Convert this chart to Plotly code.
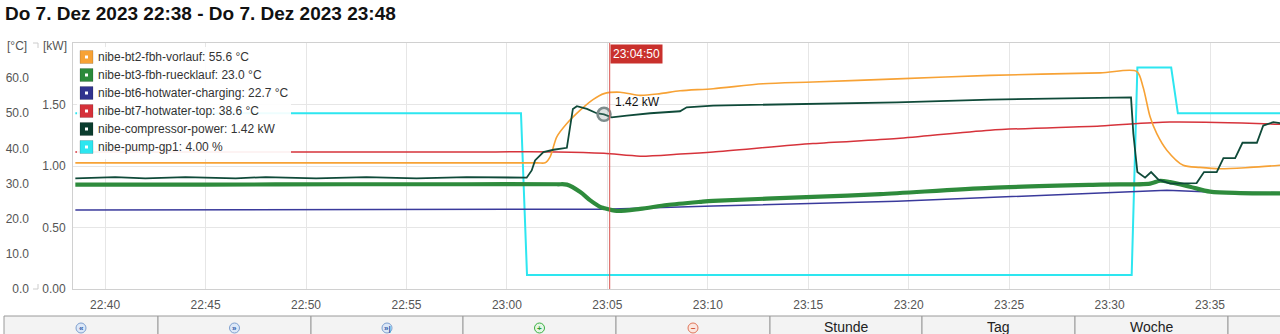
import plotly.graph_objects as go

D = "2023-12-07 "

# ---------------- data ----------------
vorlauf_t = ["22:38:31", "22:45:00", "22:52:00", "22:58:00", "23:01:30", "23:01:54", "23:02:09", "23:02:29",
             "23:02:59", "23:03:39", "23:04:17", "23:04:50",
             "23:05:38", "23:06:38", "23:07:38", "23:08:37", "23:10:16", "23:12:45", "23:15:14", "23:19:25",
             "23:24:03", "23:29:32", "23:31:21", "23:31:40", "23:32:01", "23:32:21", "23:32:51", "23:33:40",
             "23:34:30", "23:35:30", "23:36:59", "23:38:29"]
vorlauf_v = [35.9, 35.9, 35.9, 35.9, 35.9, 35.9, 37.6, 43.3,
             47.1, 50.9, 53.9, 55.6,
             56.0, 55.1, 55.6, 56.4, 57.0, 58.4, 58.9, 59.8,
             60.8, 61.5, 61.9, 57.5, 49.0, 44.2, 39.5, 35.2,
             34.6, 34.2, 34.6, 35.2]

ruecklauf_t = ["22:38:31", "22:45:00", "22:52:00", "22:58:00", "23:02:30", "23:02:59", "23:03:39", "23:04:08",
               "23:04:38", "23:04:50", "23:05:28",
               "23:06:38", "23:07:58", "23:09:37", "23:10:16", "23:15:14", "23:18:35", "23:24:03", "23:29:32",
               "23:32:01", "23:32:31", "23:33:01", "23:34:00", "23:35:00", "23:36:30", "23:38:29"]
ruecklauf_v = [29.7, 29.7, 29.8, 29.8, 29.8, 29.7, 27.6, 25.3,
               23.4, 23.0, 22.2,
               22.8, 23.9, 24.8, 25.1, 26.2, 27.0, 28.8, 29.7,
               30.0, 30.8, 30.4, 29.1, 27.7, 27.3, 27.2]

charging_t = ["22:38:31", "23:04:50", "23:10:16", "23:19:25", "23:29:32", "23:32:51", "23:35:00", "23:38:29"]
charging_v = [22.5, 22.7, 23.6, 25.0, 27.3, 28.1, 27.6, 27.4]

top_t = ["22:38:31", "22:45:00", "22:52:00", "22:58:00", "23:02:30", "23:04:50", "23:06:38", "23:08:38",
         "23:10:16", "23:15:14", "23:19:25", "23:24:03", "23:29:32", "23:33:00", "23:38:29"]
top_v = [39.0, 39.0, 39.0, 39.0, 39.0, 38.6, 37.8, 38.4,
         39.0, 41.4, 42.8, 45.2, 46.4, 47.5, 46.9]

comp_t = ["22:38:31", "22:40:30", "22:42:00", "22:44:00", "22:46:30", "22:48:00", "22:50:30", "22:53:00",
          "22:55:30", "22:58:00", "23:00:59", "23:01:14", "23:01:24", "23:01:49", "23:02:19", "23:02:59",
          "23:03:17", "23:03:29", "23:03:59", "23:04:28", "23:04:50", "23:05:13", "23:05:58", "23:07:08",
          "23:08:37", "23:08:57", "23:10:16", "23:15:14", "23:19:25", "23:24:03", "23:29:32", "23:31:04",
          "23:31:11", "23:31:23", "23:31:46", "23:32:04", "23:32:26", "23:33:01", "23:34:20", "23:34:42",
          "23:35:20", "23:35:40", "23:36:15", "23:36:37", "23:37:20", "23:37:39", "23:38:09", "23:38:29"]
comp_v = [0.90, 0.91, 0.90, 0.91, 0.90, 0.91, 0.90, 0.91,
          0.90, 0.91, 0.905, 0.964, 1.045, 1.113, 1.132, 1.148,
          1.464, 1.486, 1.464, 1.429, 1.42, 1.396, 1.41, 1.429,
          1.445, 1.477, 1.491, 1.505, 1.518, 1.540, 1.558, 1.558,
          1.262, 0.951, 0.905, 0.951, 0.889, 0.857, 0.861, 0.951,
          0.951, 1.064, 1.064, 1.189, 1.189, 1.329, 1.356, 1.348]

pump_t = ["22:38:31", "23:00:42", "23:01:00", "23:31:06", "23:31:23", "23:33:04", "23:33:24", "23:38:29"]
pump_v = [50, 50, 4, 4, 63, 63, 50, 50]

legend_labels = ["nibe-bt2-fbh-vorlauf: 55.6 °C", "nibe-bt3-fbh-ruecklauf: 23.0 °C",
                 "nibe-bt6-hotwater-charging: 22.7 °C", "nibe-bt7-hotwater-top: 38.6 °C",
                 "nibe-compressor-power: 1.42 kW", "nibe-pump-gp1: 4.00 %"]
legend_colors = ["#f7a235", "#2b8a3b", "#30338f", "#d5313a", "#0b3d2e", "#2de6f0"]

c_ticks = [0, 10, 20, 30, 40, 50, 60]
kw_ticks = [0, 0.5, 1.0, 1.5]
title_text = "Do 7. Dez 2023 22:38 - Do 7. Dez 2023 23:48"
hover_time = "23:04:50"
hover_value = 1.42
crosshair_time = "23:05:07"
buttons = ["«", "»", "»|", "+", "−", "Stunde", "Tag", "Woche", ""]

# ---------------- figure ----------------
W, H = 1280, 334
PT, PB = 43, 289


def px(x):
    return x / W


def py(y):
    return (PB - y) / (PB - PT)


FONT = "Liberation Sans, Arial, sans-serif"

fig = go.Figure()


def ts(lst):
    return [D + t for t in lst]


fig.add_trace(go.Scatter(x=ts(pump_t), y=pump_v, mode="lines", yaxis="y",
                         line=dict(color="#2de6f0", width=2), hoverinfo="skip"))
fig.add_trace(go.Scatter(x=ts(charging_t), y=charging_v, mode="lines", yaxis="y",
                         line=dict(color="#3a3a9c", width=1.5), hoverinfo="skip"))
fig.add_trace(go.Scatter(x=ts(top_t), y=top_v, mode="lines", yaxis="y", line_shape="spline",
                         line=dict(color="#d6333b", width=1.5, smoothing=0.8), hoverinfo="skip"))
fig.add_trace(go.Scatter(x=ts(vorlauf_t), y=vorlauf_v, mode="lines", yaxis="y", line_shape="spline",
                         line=dict(color="#f7a235", width=1.6, smoothing=0.8), hoverinfo="skip"))
fig.add_trace(go.Scatter(x=ts(ruecklauf_t), y=ruecklauf_v, mode="lines", yaxis="y", line_shape="spline",
                         line=dict(color="#2e8b3c", width=4.2, smoothing=0.8), hoverinfo="skip"))
fig.add_trace(go.Scatter(x=ts(comp_t), y=comp_v, mode="lines", yaxis="y2",
                         line=dict(color="#0f4a39", width=1.8), hoverinfo="skip"))
fig.add_trace(go.Scatter(x=[D + hover_time], y=[hover_value], mode="markers", yaxis="y2",
                         marker=dict(size=13, color="rgba(120,140,140,0.25)",
                                     line=dict(color="#7d8c8c", width=2.5)), hoverinfo="skip"))

shapes = []
annotations = []

# crosshair
shapes.append(dict(type="line", xref="x", yref="paper", x0=D + crosshair_time, x1=D + crosshair_time,
                   y0=0, y1=1, line=dict(color="#d9534f", width=1), layer="above"))
annotations.append(dict(xref="x", yref="paper", x=D + crosshair_time, y=py(44), xanchor="left", yanchor="top",
                        text=hover_time, showarrow=False, bgcolor="#c9302c", borderpad=2,
                        font=dict(family=FONT, size=12, color="white")))
annotations.append(dict(xref="x", yref="y2", x=D + hover_time, y=hover_value, xanchor="left", yanchor="middle",
                        xshift=9, yshift=12, text=f"{hover_value:.2f} kW", showarrow=False,
                        font=dict(family=FONT, size=12, color="#111")))

# legend box
shapes.append(dict(type="rect", xref="paper", yref="paper", x0=px(77), x1=px(291), y0=py(159), y1=py(47),
                   fillcolor="rgba(255,255,255,0.92)", line=dict(width=0), layer="above"))
for i, (lab, col) in enumerate(zip(legend_labels, legend_colors)):
    cy = 57 + 18 * i
    shapes.append(dict(type="rect", xref="paper", yref="paper", x0=px(80), x1=px(93),
                       y0=py(cy + 6.5), y1=py(cy - 6.5), fillcolor=col,
                       line=dict(color="rgba(0,0,0,0.15)", width=1), layer="above"))
    shapes.append(dict(type="rect", xref="paper", yref="paper", x0=px(85), x1=px(88),
                       y0=py(cy + 1.5), y1=py(cy - 1.5), fillcolor="white",
                       line=dict(width=0), layer="above"))
    annotations.append(dict(xref="paper", yref="paper", x=px(96), y=py(cy), xanchor="left", yanchor="middle",
                            text=lab, showarrow=False, font=dict(family=FONT, size=12, color="#333")))

# title and axis unit labels
annotations.append(dict(xref="paper", yref="paper", x=px(3), y=py(14), xanchor="left", yanchor="middle",
                        text="<b>" + title_text + "</b>", showarrow=False,
                        font=dict(family=FONT, size=19, color="#111")))
annotations.append(dict(xref="paper", yref="paper", x=px(29), y=py(46), xanchor="right", yanchor="middle",
                        text="[°C]", showarrow=False, font=dict(family=FONT, size=12, color="#555")))
annotations.append(dict(xref="paper", yref="paper", x=px(69), y=py(46), xanchor="right", yanchor="middle",
                        text="[kW]", showarrow=False, font=dict(family=FONT, size=12, color="#555")))
# small °C axis marks
shapes.append(dict(type="line", xref="paper", yref="paper", x0=px(33), x1=px(38), y0=py(43), y1=py(43),
                   line=dict(color="#cccccc", width=1)))
shapes.append(dict(type="line", xref="paper", yref="paper", x0=px(38), x1=px(38), y0=py(43), y1=py(48),
                   line=dict(color="#cccccc", width=1)))
shapes.append(dict(type="line", xref="paper", yref="paper", x0=px(33), x1=px(38), y0=py(289), y1=py(289),
                   line=dict(color="#cccccc", width=1)))
shapes.append(dict(type="line", xref="paper", yref="paper", x0=px(38), x1=px(38), y0=py(289), y1=py(284),
                   line=dict(color="#cccccc", width=1)))

# button bar
edges = [4, 158, 311, 463, 616, 770, 922, 1075, 1228, 1381]
for i, lab in enumerate(buttons):
    x0, x1 = edges[i], edges[i + 1]
    shapes.append(dict(type="rect", xref="paper", yref="paper", x0=px(x0), x1=px(x1), y0=py(340), y1=py(316),
                       fillcolor="#f3f3f3", line=dict(color="#9a9a9a", width=1), layer="above"))
    cx = (x0 + x1) / 2
    if i < 5:
        if i < 3:
            fill, ring, glyph = "#dce8f8", "#7fa0cf", "#2b5aa8"
        elif i == 3:
            fill, ring, glyph = "#e4f6e4", "#3bb043", "#2a9a30"
        else:
            fill, ring, glyph = "#fbe6df", "#e0765a", "#d0502f"
        shapes.append(dict(type="circle", xref="paper", yref="paper", x0=px(cx - 5), x1=px(cx + 5),
                           y0=py(333), y1=py(323), fillcolor=fill, line=dict(color=ring, width=1),
                           layer="above"))
        annotations.append(dict(xref="paper", yref="paper", x=px(cx), y=py(328), xanchor="center",
                                yanchor="middle", text="<b>" + lab + "</b>", showarrow=False,
                                font=dict(family=FONT, size=8, color=glyph)))
    elif lab:
        annotations.append(dict(xref="paper", yref="paper", x=px(cx), y=py(327), xanchor="center",
                                yanchor="middle", text=lab, showarrow=False,
                                font=dict(family=FONT, size=14, color="#222")))

fig.update_layout(
    width=W, height=H,
    margin=dict(l=0, r=0, t=PT, b=H - PB, pad=0),
    paper_bgcolor="white", plot_bgcolor="white",
    showlegend=False,
    font=dict(family=FONT, size=12, color="#555"),
    shapes=shapes, annotations=annotations,
    xaxis=dict(domain=[73 / W, 1], type="date",
               range=[D + "22:38:24", D + "23:38:29"],
               tick0=D + "22:40:00", dtick=300000, tickformat="%H:%M",
               showgrid=True, gridcolor="#e6e6e6", gridwidth=1,
               showline=True, linecolor="#d0d0d0", linewidth=1, mirror=True,
               ticks="", ticklabelstandoff=5,
               tickfont=dict(family=FONT, size=12, color="#555"), zeroline=False),
    yaxis=dict(range=[0, 70], anchor="free", position=31 / W, side="left",
               tickvals=c_ticks, ticktext=[f"{v:.1f}" for v in c_ticks],
               showgrid=False, zeroline=False, showline=False, ticks="",
               ticklabelstandoff=2,
               tickfont=dict(family=FONT, size=12, color="#555")),
    yaxis2=dict(range=[0, 2], overlaying="y", anchor="x", side="left",
                tickvals=kw_ticks, ticktext=[f"{v:.2f}" for v in kw_ticks],
                showgrid=True, gridcolor="#e6e6e6", zeroline=False,
                showline=True, linecolor="#d0d0d0", linewidth=1, ticks="",
                ticklabelstandoff=4,
                tickfont=dict(family=FONT, size=12, color="#555")),
)

fig.write_html("out.html")
